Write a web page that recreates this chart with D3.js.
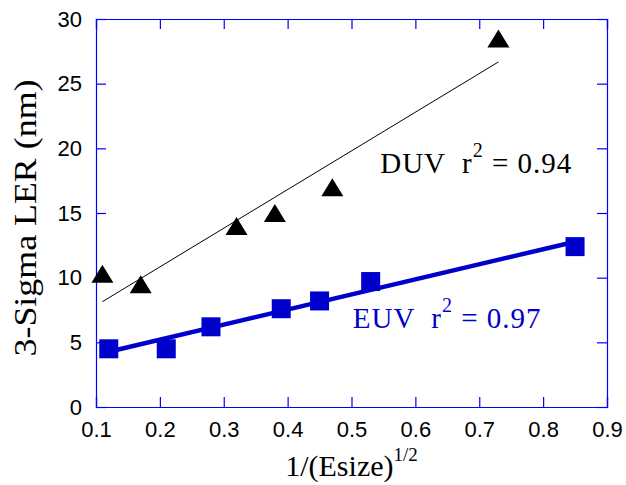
<!DOCTYPE html>
<html>
<head>
<meta charset="utf-8">
<script src="https://cdn.jsdelivr.net/npm/d3@7"></script>
<style>
  body { margin: 0; background: #fff; }
  text { white-space: pre; }
</style>
</head>
<body>
<div id="chart"></div>
<script>
// DUV 数据 (三角形)
const duvX = [0.11, 0.17, 0.32, 0.38, 0.47, 0.73];
const duvY = [10.3, 9.5, 14.0, 15.0, 17.0, 28.5];
// EUV 数据 (方块)
const euvX = [0.12, 0.21, 0.28, 0.39, 0.45, 0.53, 0.85];
const euvY = [4.5, 4.5, 6.2, 7.6, 8.2, 9.7, 12.4];
// 刻度
const xTicks = [0.1, 0.2, 0.3, 0.4, 0.5, 0.6, 0.7, 0.8, 0.9];
const yTicks = [0, 5, 10, 15, 20, 25, 30];
const r2Labels = ["0.94", "0.97"];

const width = 626, height = 485;
const margin = { left: 96, right: 19, top: 19, bottom: 78 };

const svg = d3.select("#chart").append("svg")
  .attr("width", width)
  .attr("height", height);

const x = d3.scaleLinear().domain([0.1, 0.9]).range([margin.left, width - margin.right]);
const y = d3.scaleLinear().domain([0, 30]).range([height - margin.bottom, margin.top]);

const frameColor = "#0000ff";
const euvColor = "#0000cc";
const tickLen = 10;
const serif = "'Liberation Serif', 'Times New Roman', serif";

// 坐标轴 (刻度朝内, 四边都有)
svg.append("g")
  .attr("transform", `translate(0,${y(0)})`)
  .call(d3.axisBottom(x).tickValues(xTicks).tickSize(-tickLen).tickPadding(tickLen + 4).tickFormat(d3.format(".1f")));
svg.append("g")
  .attr("transform", `translate(0,${y(30)})`)
  .call(d3.axisTop(x).tickValues(xTicks).tickSize(-tickLen).tickFormat(""));
svg.append("g")
  .attr("transform", `translate(${x(0.1)},0)`)
  .call(d3.axisLeft(y).tickValues(yTicks).tickSize(-tickLen).tickPadding(tickLen + 4));
svg.append("g")
  .attr("transform", `translate(${x(0.9)},0)`)
  .call(d3.axisRight(y).tickValues(yTicks).tickSize(-tickLen).tickFormat(""));

svg.selectAll(".domain").attr("stroke", frameColor).attr("stroke-width", 1.2);
svg.selectAll(".tick line").attr("stroke", frameColor).attr("stroke-width", 1.2);
svg.selectAll(".tick text")
  .attr("fill", "#000")
  .attr("font-family", "'Liberation Sans', Arial, sans-serif")
  .attr("font-size", 22);

// 线性回归
function fit(xs, ys) {
  const mx = d3.mean(xs), my = d3.mean(ys);
  let sxy = 0, sxx = 0;
  xs.forEach((v, i) => { sxy += (v - mx) * (ys[i] - my); sxx += (v - mx) * (v - mx); });
  const b = sxy / sxx, a = my - b * mx;
  const x0 = d3.min(xs), x1 = d3.max(xs);
  return [[x0, a + b * x0], [x1, a + b * x1]];
}

const line = d3.line().x(d => x(d[0])).y(d => y(d[1]));

svg.append("path")
  .attr("d", line(fit(duvX, duvY)))
  .attr("stroke", "#000")
  .attr("stroke-width", 1)
  .attr("fill", "none");

svg.append("path")
  .attr("d", line(fit(euvX, euvY)))
  .attr("stroke", euvColor)
  .attr("stroke-width", 4.5)
  .attr("fill", "none");

// 三角形 (以外框中心定位)
const triW = 22, triH = 18;
const triPath = `M0,${-triH / 2}L${triW / 2},${triH / 2}L${-triW / 2},${triH / 2}Z`;
svg.selectAll(".duv")
  .data(duvX.map((v, i) => [v, duvY[i]]))
  .enter()
  .append("path")
  .attr("d", triPath)
  .attr("transform", d => `translate(${x(d[0])},${y(d[1])})`)
  .attr("fill", "#000");

// 方块
const sq = 19;
svg.selectAll(".euv")
  .data(euvX.map((v, i) => [v, euvY[i]]))
  .enter()
  .append("rect")
  .attr("x", d => x(d[0]) - sq / 2)
  .attr("y", d => y(d[1]) - sq / 2)
  .attr("width", sq)
  .attr("height", sq)
  .attr("fill", euvColor);

// 注释文字
function r2Text(label, value, px, py, color) {
  const t = svg.append("text")
    .attr("x", x(px))
    .attr("y", y(py))
    .attr("fill", color)
    .attr("font-family", serif)
    .attr("font-size", 29)
    .attr("letter-spacing", 1);
  t.append("tspan").text(label + "  r");
  t.append("tspan").attr("dy", -16).attr("font-size", 20).text("2");
  t.append("tspan").attr("dy", 16).text(" = " + value);
}
r2Text("DUV", r2Labels[0], 0.545, 18.1, "#000");
r2Text("EUV", r2Labels[1], 0.502, 6.1, euvColor);

// 坐标轴标题
const xt = svg.append("text")
  .attr("x", (x(0.1) + x(0.9)) / 2)
  .attr("y", 476)
  .attr("text-anchor", "middle")
  .attr("font-family", serif)
  .attr("font-size", 30);
xt.append("tspan").text("1/(Esize)");
xt.append("tspan").attr("dy", -15).attr("font-size", 19).text("1/2");

svg.append("text")
  .attr("transform", `translate(36,${(y(0) + y(30)) / 2 + 5}) rotate(-90)`)
  .attr("text-anchor", "middle")
  .attr("font-family", serif)
  .attr("font-size", 31)
  .attr("textLength", 277)
  .attr("lengthAdjust", "spacingAndGlyphs")
  .text("3-Sigma LER (nm)");
</script>
</body>
</html>
